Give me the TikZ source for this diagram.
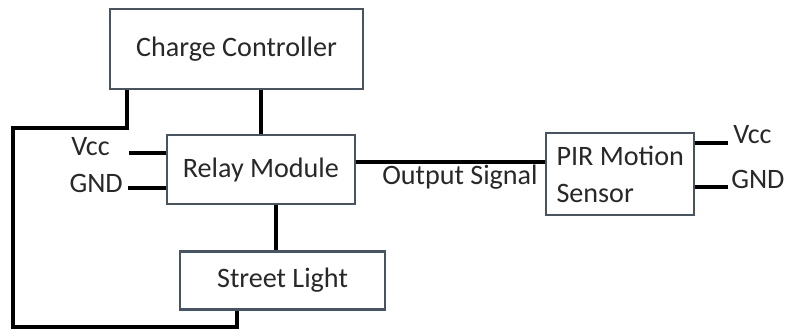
\documentclass[tikz,border=0pt]{standalone}
\usepackage{fontspec}
\setmainfont{Carlito}
\usetikzlibrary{positioning}
\definecolor{boxline}{RGB}{72,84,98}
\definecolor{txt}{RGB}{40,40,40}

\begin{document}
\begin{tikzpicture}[
        x=0.025cm, y=-0.025cm,
        block/.style={draw=boxline, line width=1.6pt, rectangle, fill=white, align=center, text=txt, font=\fontsize{20}{26}\selectfont, inner sep=4pt},
        lbl/.style={inner sep=0pt, text=txt, font=\fontsize{20}{26}\selectfont},
        wire/.style={draw=black, line width=2.5pt}
    ]
        \useasboundingbox (0,0) rectangle (785,331);

        \node[block, minimum width=6.325cm, minimum height=2cm] (cc) at (236.5,49) {Charge Controller};
        \node[block, minimum width=4.7cm, minimum height=1.725cm, below=1.1cm of cc, xshift=0.61cm] (relay) {Relay Module};
        \node[block, minimum width=5.125cm, minimum height=1.45cm, below=1.125cm of relay, xshift=0.54cm] (street) {Street Light};
        \node[block, minimum width=3.7cm, minimum height=2.05cm, right=4.725cm of relay, yshift=-0.11cm, align=left] (pir) {PIR Motion\\Sensor};

        % pin labels
        \node[lbl, anchor=base east] (vccL) at (110,155) {Vcc};
        \node[lbl, anchor=base east] (gndL) at (123,192) {GND};
        \node[lbl, anchor=base east] (sigL) at (538,184) {Output Signal};
        \node[lbl, anchor=base west] (vccR) at (733,143) {Vcc};
        \node[lbl, anchor=base west] (gndR) at (731,188) {GND};

        \coordinate (vccEnd) at (129,153);
        \coordinate (gndEnd) at (128,188);
        \coordinate (vccREnd) at (728,143);
        \coordinate (gndREnd) at (728,187);
        \coordinate (loopTL) at (13,128);
        \coordinate (loopBL) at (13,327);

        \draw[wire] (relay.north) -- (relay.north |- cc.south);
        \draw[wire] ([xshift=0.375cm]relay.south) -- ([xshift=0.375cm]relay.south |- street.north);
        \draw[wire] ([yshift=0.19cm]relay.east) -- ([yshift=0.19cm]relay.east -| pir.west);
        \draw[wire] (vccEnd) -- (vccEnd -| relay.west);
        \draw[wire] (gndEnd) -- (gndEnd -| relay.west);
        \draw[wire] (vccREnd) -- (vccREnd -| pir.east);
        \draw[wire] (gndREnd) -- (gndREnd -| pir.east);
        \draw[wire] ([xshift=0.45cm]cc.south west) |- (loopTL) -- (loopBL) -| ([xshift=1.45cm]street.south west);
    \end{tikzpicture}
\end{document}
